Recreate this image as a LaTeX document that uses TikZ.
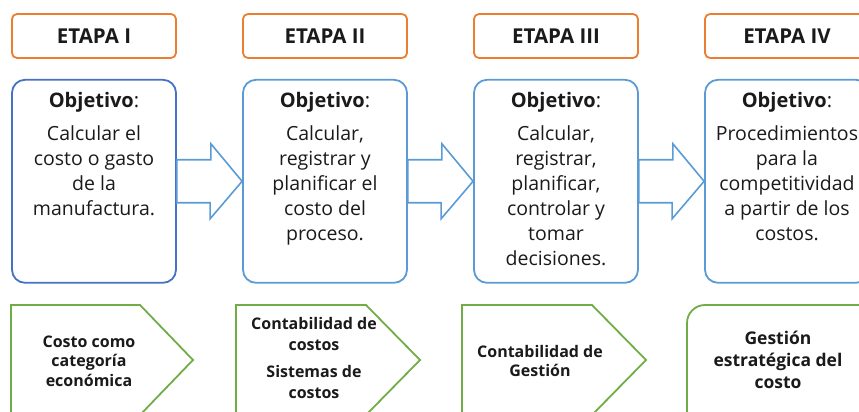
\documentclass[tikz,border=0pt]{standalone}
\usepackage{fontspec}
\setmainfont{Open Sans}
\usetikzlibrary{positioning}
\definecolor{naranja}{HTML}{ED7D31}
\definecolor{azul}{HTML}{4472C4}
\definecolor{celeste}{HTML}{5B9BD5}
\definecolor{verde}{HTML}{70AD47}
\definecolor{tinta}{HTML}{1A1A1A}

\begin{document}
\begin{tikzpicture}[x=1pt,y=1pt,node distance=65.2pt,text=tinta,
    etapa/.style={draw=naranja,line width=1.8pt,rounded corners=5pt,minimum width=164pt,minimum height=44pt,font=\fontsize{20.5}{22}\selectfont\bfseries},
    objbox/.style={draw=celeste,line width=1.8pt,rounded corners=13pt,minimum width=164pt,minimum height=203pt},
    objtext/.style={align=center,inner sep=0pt,anchor=north,font=\fontsize{19.5}{25}\selectfont},
    flecha/.style={draw=celeste,line width=1.6pt,line join=miter},
    hoja/.style={draw=verde,line width=1.8pt},
    hojatext/.style={align=center,inner sep=0pt,font=\fontsize{16}{19.5}\selectfont\bfseries}]
    \useasboundingbox (0,0) rectangle (859,412);

    % etapas
    \node[etapa] (e1) at (94,376) {ETAPA I};
    \node[etapa] (e2) [right=of e1] {ETAPA II};
    \node[etapa] (e3) [right=of e2] {ETAPA III};
    \node[etapa] (e4) [right=of e3] {ETAPA IV};

    % objetivos
    \node[objbox,draw=azul] (obj1) [below=20pt of e1] {};
    \node[objbox] (obj2) [below=20pt of e2] {};
    \node[objbox] (obj3) [below=20pt of e3] {};
    \node[objbox] (obj4) [below=20pt of e4] {};

    \node[objtext] (t1) at ([yshift=-13pt]obj1.north) {{\fontsize{20}{25}\selectfont\textbf{Objetivo}:}\\[8pt]Calcular el\\costo o gasto\\de la\\manufactura.};
    \node[objtext] (t2) at ([yshift=-13pt]obj2.north) {{\fontsize{20}{25}\selectfont\textbf{Objetivo}:}\\[8pt]Calcular,\\registrar y\\planificar el\\costo del\\proceso.};
    \node[objtext] (t3) at ([yshift=-13pt]obj3.north) {{\fontsize{20}{25}\selectfont\textbf{Objetivo}:}\\[8pt]Calcular,\\registrar,\\planificar,\\controlar y\\tomar\\decisiones.};
    \node[objtext] (t4) at ([yshift=-13pt]obj4.north) {{\fontsize{20}{25}\selectfont\textbf{Objetivo}:}\\[8pt]Procedimientos\\para la\\competitividad\\a partir de los\\costos.};

    % flechas
    \foreach \a/\b in {obj1/obj2,obj2/obj3,obj3/obj4}
        \draw[flecha] ([yshift=21.5pt]\a.east) -- ++(34,0) -- ++(0,16) -- (\b.west)
            -- ++(-32,-37.5) -- ++(0,16) -- ([yshift=-21.5pt]\a.east) -- cycle;

    % bases
    \draw[hoja] (11,107) -- (140,107) -- (193,52) -- (140,-3) -- (11,-3) -- cycle;
    \draw[hoja] (236,107) -- (366,107) -- (420,52) -- (366,-3) -- (236,-3) -- cycle;
    \draw[hoja] (462,107) -- (592,107) -- (646,52) -- (592,-3) -- (462,-3) -- cycle;
    \draw[hoja,rounded corners=18pt] (687,107) rectangle (890,-30);

    \node[hojatext] (b1) at (89,51) {Costo como\\categoría\\económica};
    \node[hojatext,font=\fontsize{16}{21}\selectfont\bfseries] (b2) at (314,54) {Contabilidad de\\costos\\[6pt]Sistemas de\\costos};
    \node[hojatext] (b3) at (540,51) {Contabilidad de\\Gestión};
    \node[hojatext,font=\fontsize{17.5}{22}\selectfont\bfseries] (b4) at (778,52) {Gestión\\estratégica del\\costo};
\end{tikzpicture}
\end{document}
